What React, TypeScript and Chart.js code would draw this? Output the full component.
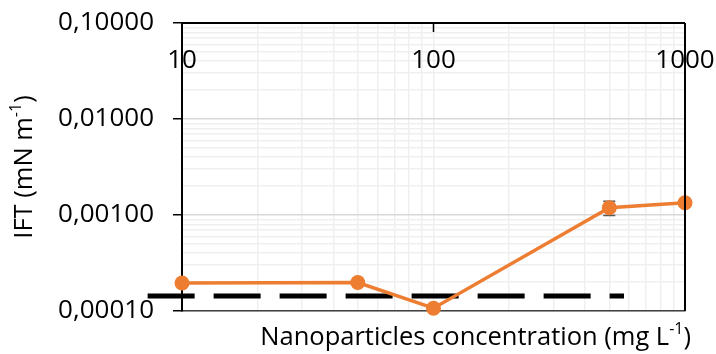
import React, { useEffect, useRef } from 'react';
import { Chart, registerables } from 'chart.js';

Chart.register(...registerables);

// ---- data ----
const concentrations = [10, 50, 100, 500, 1000];
const iftValues = [0.000196, 0.000198, 0.000107, 0.00119, 0.00134];
const iftErrors = [0, 0, 0, 0.0002, 0];
const referenceX = [7.3, 572];
const referenceY = [0.000143, 0.000143];
const xMajorTicks = [10, 100, 1000];
const xTickLabels = ['10', '100', '1000'];
const yMajorTicks = [0.0001, 0.001, 0.01, 0.1];
const yTickLabels = ['0,00010', '0,00100', '0,01000', '0,10000'];
const xTitleMain = 'Nanoparticles concentration (mg L';
const xTitleSup = '-1';
const xTitleEnd = ')';
const yTitleMain = 'IFT (mN m';
const yTitleSup = '-1';
const yTitleEnd = ')';

const FONT = '"Open Sans", "Noto Sans", sans-serif';
const ORANGE = '#ED7D31';
const FS = 26;
const TITLE_FS = 25.5;

function withMinors(majors: number[]) {
  const out: { value: number; major: boolean }[] = [];
  for (let i = 0; i < majors.length; i++) {
    out.push({ value: majors[i], major: true });
    if (i < majors.length - 1) {
      for (let m = 2; m <= 9; m++) out.push({ value: majors[i] * m, major: false });
    }
  }
  return out;
}

function drawSupText(ctx: CanvasRenderingContext2D, x: number, y: number, main: string, sup: string, end: string, size: number, align: 'center' | 'right') {
  const mainFont = `${size}px ${FONT}`;
  const supFont = `${Math.round(size * 0.62)}px ${FONT}`;
  ctx.font = mainFont;
  const w1 = ctx.measureText(main).width;
  const w3 = ctx.measureText(end).width;
  ctx.font = supFont;
  const w2 = ctx.measureText(sup).width;
  const total = w1 + w2 + w3;
  const sx = align === 'center' ? x - total / 2 : x - total;
  ctx.textAlign = 'left';
  ctx.textBaseline = 'middle';
  ctx.fillStyle = '#000';
  ctx.font = mainFont;
  ctx.fillText(main, sx, y);
  ctx.font = supFont;
  ctx.fillText(sup, sx + w1, y - size * 0.33);
  ctx.font = mainFont;
  ctx.fillText(end, sx + w1 + w2, y);
}

const decorPlugin = {
  id: 'decor',
  beforeDatasetsDraw(chart: any) {
    const { ctx } = chart;
    const xs = chart.scales.x;
    const ys = chart.scales.y;
    ctx.save();
    ctx.strokeStyle = '#595959';
    ctx.lineWidth = 1.5;
    for (let i = 0; i < concentrations.length; i++) {
      const e = iftErrors[i];
      if (!e) continue;
      const px = xs.getPixelForValue(concentrations[i]);
      const top = ys.getPixelForValue(iftValues[i] + e);
      const bot = ys.getPixelForValue(iftValues[i] - e);
      ctx.beginPath();
      ctx.moveTo(px, top);
      ctx.lineTo(px, bot);
      ctx.moveTo(px - 6, top);
      ctx.lineTo(px + 6, top);
      ctx.moveTo(px - 6, bot);
      ctx.lineTo(px + 6, bot);
      ctx.stroke();
    }
    ctx.restore();
  },
  afterDraw(chart: any) {
    const { ctx, chartArea } = chart;
    const xs = chart.scales.x;
    ctx.save();
    ctx.strokeStyle = '#000';
    ctx.lineWidth = 2;
    ctx.beginPath();
    ctx.moveTo(chartArea.left, chartArea.top);
    ctx.lineTo(chartArea.right, chartArea.top);
    ctx.moveTo(chartArea.right, chartArea.top);
    ctx.lineTo(chartArea.right, chartArea.bottom);
    ctx.stroke();
    ctx.lineWidth = 1.5;
    ctx.beginPath();
    for (const v of xMajorTicks) {
      const px = xs.getPixelForValue(v);
      ctx.moveTo(px, chartArea.top);
      ctx.lineTo(px, chartArea.top + 9);
    }
    ctx.stroke();
    ctx.font = `${FS}px ${FONT}`;
    ctx.fillStyle = '#000';
    ctx.textAlign = 'center';
    ctx.textBaseline = 'middle';
    xMajorTicks.forEach((v, i) => {
      ctx.fillText(xTickLabels[i], xs.getPixelForValue(v), chartArea.top + 38);
    });
    drawSupText(ctx, chartArea.right + 6, 338, xTitleMain, xTitleSup, xTitleEnd, TITLE_FS, 'right');
    ctx.translate(25, (chartArea.top + chartArea.bottom) / 2);
    ctx.rotate(-Math.PI / 2);
    drawSupText(ctx, 0, 0, yTitleMain, yTitleSup, yTitleEnd, TITLE_FS, 'center');
    ctx.restore();
  },
};

export default function App() {
  const ref = useRef<HTMLCanvasElement | null>(null);
  useEffect(() => {
    if (!ref.current) return;
    const chart = new Chart(ref.current, {
      type: 'line',
      data: {
        datasets: [
          {
            label: 'IFT',
            data: concentrations.map((c, i) => ({ x: c, y: iftValues[i] })),
            borderColor: ORANGE,
            backgroundColor: ORANGE,
            borderWidth: 3.5,
            pointRadius: 7.5,
            pointBorderWidth: 0,
            pointBackgroundColor: ORANGE,
            clip: false,
            order: 0,
          } as any,
          {
            label: 'reference',
            data: referenceX.map((c, i) => ({ x: c, y: referenceY[i] })),
            borderColor: '#000',
            borderWidth: 5,
            borderDash: [47, 19],
            borderCapStyle: 'butt',
            pointRadius: 0,
            clip: false,
            order: 1,
          } as any,
        ],
      },
      options: {
        responsive: false,
        animation: false,
        devicePixelRatio: 1,
        layout: { padding: { top: 23, right: 31, left: 0, bottom: 0 } },
        plugins: { legend: { display: false }, tooltip: { enabled: false } },
        scales: {
          x: {
            type: 'logarithmic',
            position: 'bottom',
            min: 10,
            max: 1000,
            afterBuildTicks: (s: any) => {
              s.ticks = withMinors(xMajorTicks);
            },
            afterFit: (s: any) => {
              s.height = 43;
              s.paddingLeft = 0;
              s.paddingRight = 0;
            },
            ticks: { display: false, autoSkip: false },
            grid: { color: '#efefef', lineWidth: 1.5, drawTicks: false },
            border: { display: true, color: '#404040', width: 1.5 },
          },
          y: {
            type: 'logarithmic',
            min: 0.0001,
            max: 0.1,
            afterBuildTicks: (s: any) => {
              s.ticks = withMinors(yMajorTicks);
            },
            afterFit: (s: any) => {
              s.width = 182;
              s.paddingTop = 0;
              s.paddingBottom = 0;
            },
            ticks: {
              autoSkip: false,
              padding: 19,
              color: '#000',
              font: { family: FONT, size: FS },
              callback: (value: any) => {
                const idx = yMajorTicks.findIndex((v) => Math.abs(v - Number(value)) / v < 1e-6);
                return idx >= 0 ? yTickLabels[idx] : '';
              },
            },
            grid: {
              color: (c: any) => (c.tick && c.tick.major ? '#d9d9d9' : '#efefef'),
              lineWidth: 1.5,
              tickLength: 9,
              tickColor: (c: any) => (c.tick && c.tick.major ? '#000' : 'rgba(0,0,0,0)'),
              tickWidth: 1.5,
            },
            border: { display: true, color: '#000', width: 2 },
          },
        },
      },
      plugins: [decorPlugin],
    });
    return () => chart.destroy();
  }, []);
  return (
    <div style={{ position: 'fixed', left: 0, top: 0, width: 716, height: 354, background: '#fff' }}>
      <canvas ref={ref} width={716} height={354} />
    </div>
  );
}
